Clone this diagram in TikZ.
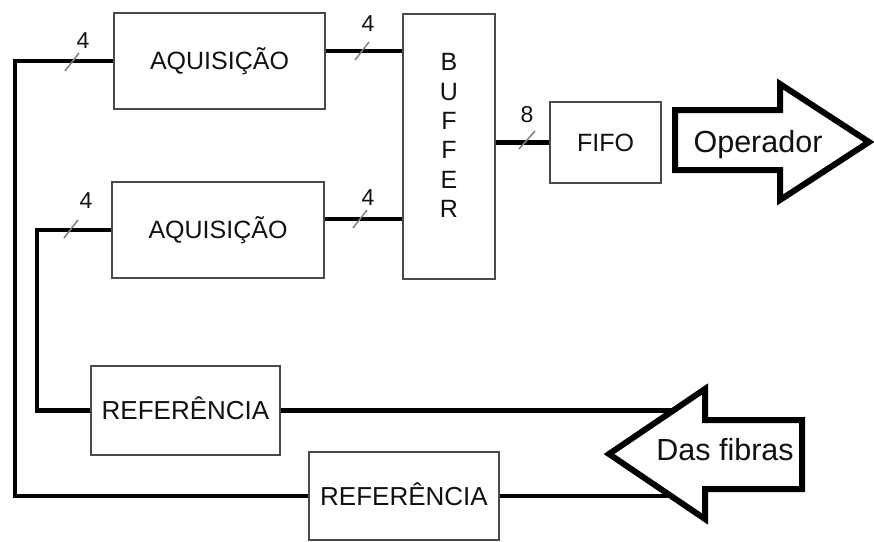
\documentclass[tikz,border=0pt]{standalone}
\usepackage{fontspec}
\setmainfont{Liberation Sans}
\definecolor{boxgray}{HTML}{4A4A4A}
\definecolor{slashgray}{HTML}{808080}
\definecolor{inkc}{HTML}{111111}
\begin{document}
\begin{tikzpicture}[x=1pt,y=-1pt,
  box/.style={draw=boxgray, line width=1.6pt, rectangle, inner sep=0pt, text=inkc,
    text height=17.9pt, text depth=0pt, font=\fontsize{25}{28}\selectfont},
  bigbox/.style={box, text height=18.6pt, font=\fontsize{26}{28}\selectfont},
  bus/.style={line width=4.5pt, line join=miter},
  slash/.style={draw=slashgray, line width=1.5pt},
  num/.style={inner sep=0pt, font=\fontsize{23}{24}\selectfont, text=inkc,
    text height=16.5pt, text depth=0pt},
  bigarrow/.style={draw, fill=white, line width=6pt, line join=miter, miter limit=10},
  arrowtext/.style={inner sep=0pt, font=\fontsize{30.5}{32}\selectfont, text=inkc,
    text height=21.8pt, text depth=0pt}]
\useasboundingbox (0,0) rectangle (874,541);

% boxes
\node[box, minimum width=211pt, minimum height=96pt] (aq1) at (219.5,61) {AQUISIÇÃO};
\node[box, minimum width=212pt, minimum height=96pt] (aq2) at (218,230) {AQUISIÇÃO};
\node[box, minimum width=92pt, minimum height=265pt] (buf) at (449,146.5) {};
\node[inner sep=0pt, align=center, text=inkc, font=\fontsize{25}{29.4}\selectfont] (buftxt) at (449,135.5) {B\\U\\F\\F\\E\\R};
\node[box, minimum width=111pt, minimum height=81pt] (fifo) at (605.5,142.5) {FIFO};
\node[bigbox, minimum width=189pt, minimum height=89pt] (ref1) at (185.5,410.5) {REFERÊNCIA};
\node[bigbox, minimum width=190pt, minimum height=88pt] (ref2) at (404,496) {REFERÊNCIA};

% helper coordinates
\coordinate (L1) at (15,0);
\coordinate (L2) at (37,0);
\coordinate (f1) at (672,0);

% connectors
\draw[bus] (aq1.west) -- (aq1.west -| L1) |- (ref2.west);
\draw[bus] (aq2.west) -- (aq2.west -| L2) |- (ref1.west);
\draw[bus] ([yshift=10pt]aq1.east) coordinate (b1) -- (b1 -| buf.west);
\draw[bus] ([yshift=11pt]aq2.east) coordinate (b2) -- (b2 -| buf.west);
\draw[bus] (fifo.west) -- (fifo.west -| buf.east);
\draw[bus] (ref1.east) -- (ref1.east -| f1);
\draw[bus] (ref2.east) -- (ref2.east -| f1);

% bus width marks
\draw[slash] (65,71) -- (79,53);
\draw[slash] (355,60) -- (369,42);
\draw[slash] (64,238) -- (78,220);
\draw[slash] (353,228) -- (367,210);
\draw[slash] (519,149) -- (535,131);
\node[num] (n1) at (83,40) {4};
\node[num] (n2) at (368,23) {4};
\node[num] (n3) at (86,200) {4};
\node[num] (n4) at (368,197.5) {4};
\node[num] (n5) at (527,114) {8};

% big arrows
\draw[bigarrow] (675,110) -- (780,110) -- (780,84) -- (869,142) -- (780,200) -- (780,170) -- (675,170) -- cycle;
\node[arrowtext] (op) at (758,142) {Operador};
\draw[bigarrow] (609,454) -- (705,389) -- (705,420) -- (802,420) -- (802,489) -- (705,489) -- (705,519) -- cycle;
\node[arrowtext] (df) at (725,450) {Das fibras};
\end{tikzpicture}
\end{document}
